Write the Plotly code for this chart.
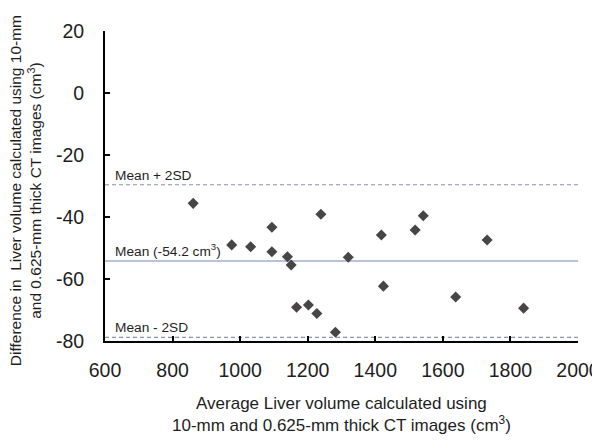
import plotly.graph_objects as go

# Data (Bland-Altman plot)
avg_volume = [861, 975, 1031, 1094, 1094, 1140, 1151, 1167, 1202, 1227,
              1239, 1282, 1320, 1418, 1424, 1518, 1542, 1638, 1731, 1839]
difference = [-35.6, -49.0, -49.6, -43.3, -51.2, -52.8, -55.5, -69.1, -68.4, -71.1,
              -39.1, -77.2, -53.0, -45.8, -62.3, -44.2, -39.6, -65.8, -47.4, -69.4]

mean_diff = -54.2
upper_loa = -29.6
lower_loa = -78.8

x_range = [600, 2000]
y_range = [-80, 20]
x_ticks = [600, 800, 1000, 1200, 1400, 1600, 1800, 2000]
y_ticks = [20, 0, -20, -40, -60, -80]
x_ticktext = [str(v) for v in x_ticks]
y_ticktext = [str(v) for v in y_ticks]

FONT = "Liberation Sans, Arial, sans-serif"
TXT = "#1e1e1e"

fig = go.Figure()

fig.add_trace(go.Scatter(x=x_range, y=[upper_loa, upper_loa], mode="lines",
                         line=dict(color="#8496b4", width=1.2, dash="4px,3px"),
                         hoverinfo="skip", showlegend=False))
fig.add_trace(go.Scatter(x=x_range, y=[lower_loa, lower_loa], mode="lines",
                         line=dict(color="#8496b4", width=1.2, dash="4px,3px"),
                         hoverinfo="skip", showlegend=False))
fig.add_trace(go.Scatter(x=x_range, y=[mean_diff, mean_diff], mode="lines",
                         line=dict(color="#6f87b8", width=1.2),
                         hoverinfo="skip", showlegend=False))

fig.add_trace(go.Scatter(x=avg_volume, y=difference, mode="markers",
                         marker=dict(symbol="diamond", size=8.5, color="#484546"),
                         showlegend=False))

label_font = dict(family=FONT, size=13.7, color=TXT)
fig.add_annotation(x=x_range[0], y=upper_loa, xref="x", yref="y", text="Mean + 2SD",
                   showarrow=False, xanchor="left", yanchor="bottom", xshift=8, yshift=0,
                   font=label_font)
fig.add_annotation(x=x_range[0], y=mean_diff, xref="x", yref="y",
                   text="Mean (%.1f cm<sup>3</sup>)" % mean_diff,
                   showarrow=False, xanchor="left", yanchor="bottom", xshift=8, yshift=0,
                   font=label_font)
fig.add_annotation(x=x_range[0], y=lower_loa, xref="x", yref="y", text="Mean - 2SD",
                   showarrow=False, xanchor="left", yanchor="bottom", xshift=8, yshift=0,
                   font=label_font)

fig.add_annotation(x=0.5, y=-0.165, xref="paper", yref="paper",
                   text="Average Liver volume calculated using<br>10-mm and 0.625-mm thick CT images (cm<sup>3</sup>)",
                   showarrow=False, xanchor="center", yanchor="top",
                   font=dict(family=FONT, size=17, color=TXT))
fig.add_annotation(x=-0.168, y=0.485, xref="paper", yref="paper",
                   text="Difference in  Liver volume calculated using 10-mm<br>and 0.625-mm thick CT images (cm<sup>3</sup>)",
                   showarrow=False, xanchor="center", yanchor="middle", textangle=-90,
                   font=dict(family=FONT, size=15.5, color=TXT))

fig.update_layout(
    width=600, height=440,
    margin=dict(l=97, r=30, t=23, b=107),
    paper_bgcolor="white", plot_bgcolor="white",
    xaxis=dict(range=x_range, tickvals=x_ticks, ticktext=x_ticktext,
               showgrid=False, zeroline=False, automargin=False,
               showline=True, linecolor="black", linewidth=2,
               ticks="inside", ticklen=5, tickwidth=2, tickcolor="black",
               tickfont=dict(family=FONT, size=19.5, color=TXT),
               ticklabelstandoff=11),
    yaxis=dict(range=y_range, tickvals=y_ticks, ticktext=y_ticktext,
               showgrid=False, zeroline=False, automargin=False,
               showline=True, linecolor="black", linewidth=2,
               ticks="inside", ticklen=5, tickwidth=2, tickcolor="black",
               tickfont=dict(family=FONT, size=19.5, color=TXT),
               ticklabelstandoff=15),
)

fig.write_html("out.html")
